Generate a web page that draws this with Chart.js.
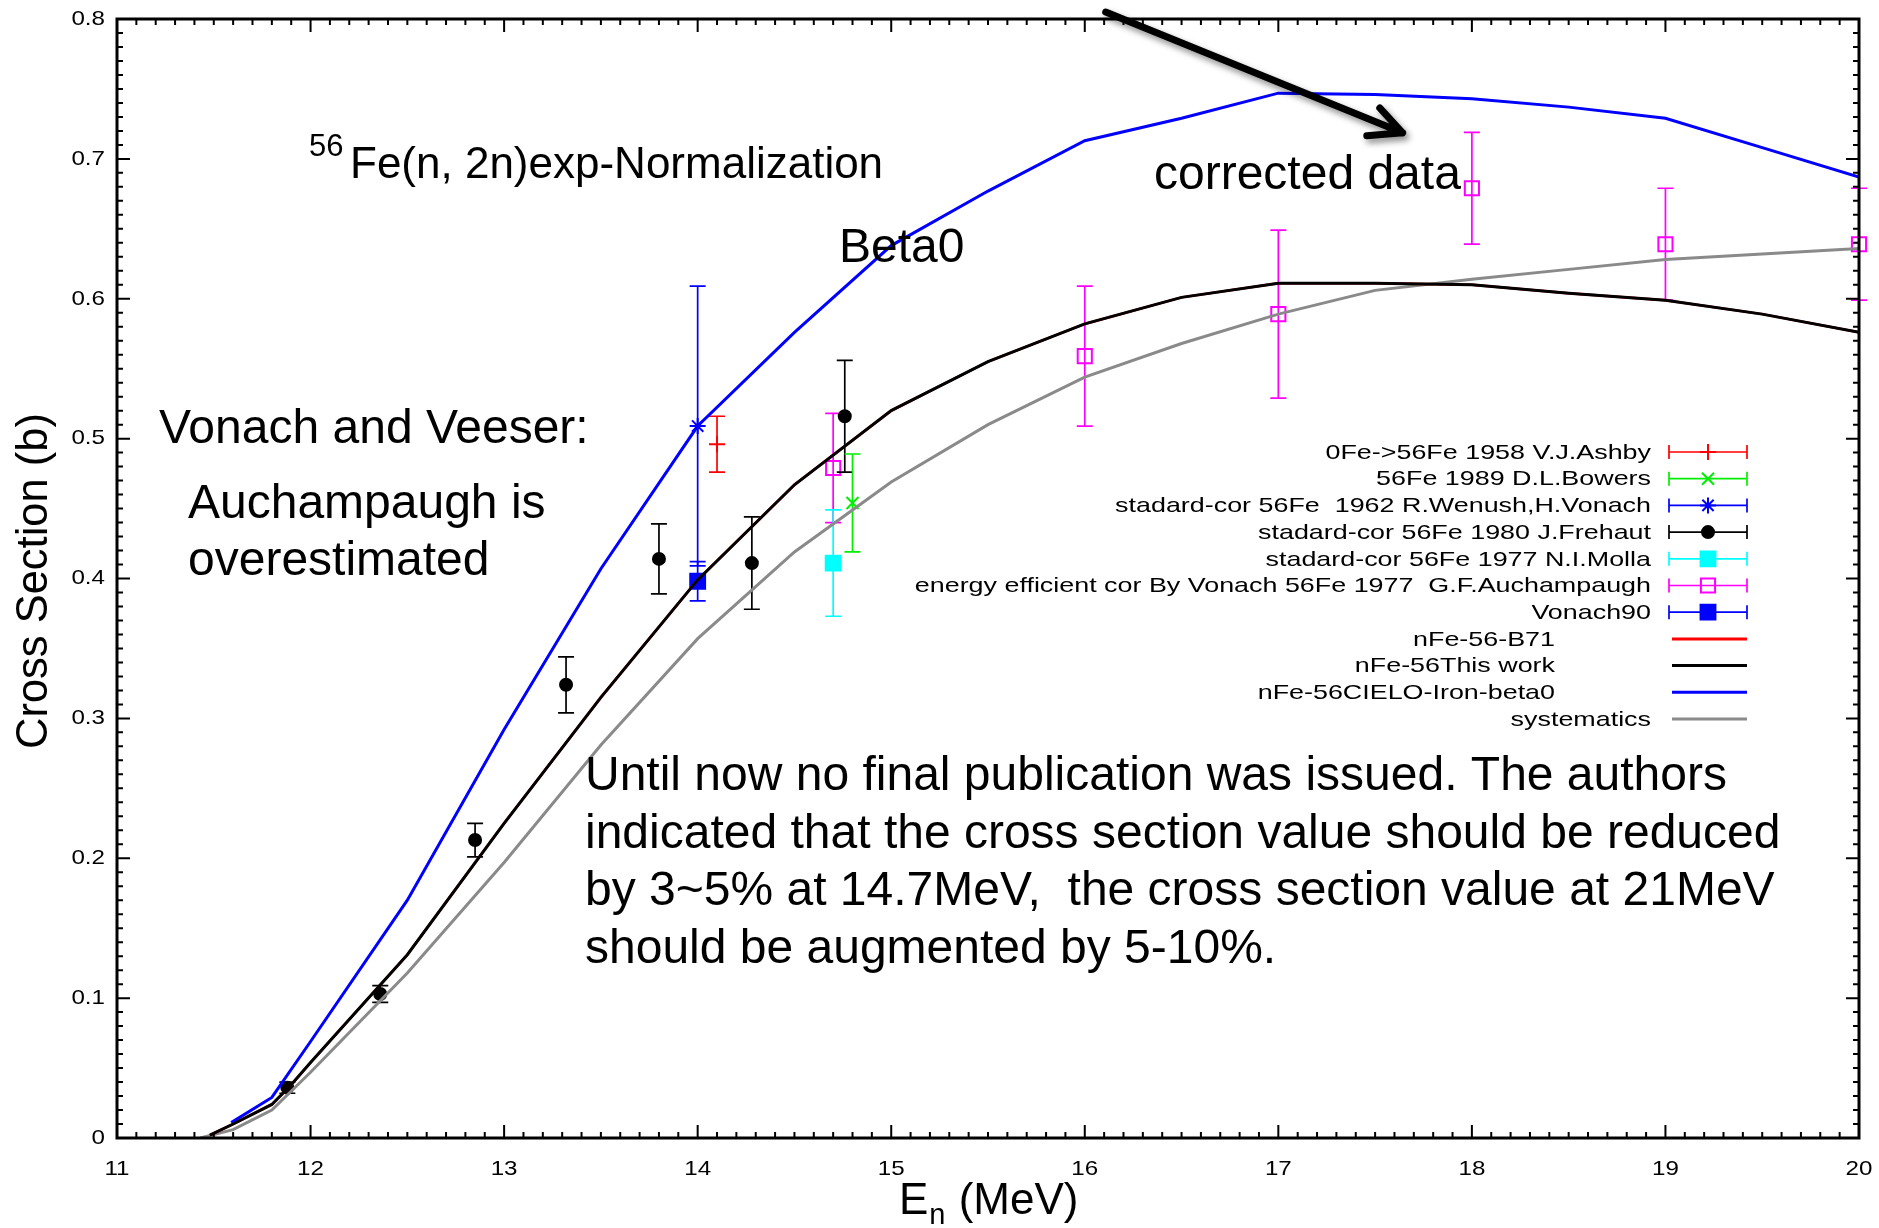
<!DOCTYPE html>
<html>
<head>
<meta charset="utf-8">
<script src="https://cdn.jsdelivr.net/npm/chart.js@4.4.1/dist/chart.umd.min.js"></script>
<style>
  html, body { margin: 0; padding: 0; background: #fff; }
  #wrap { width: 1879px; height: 1228px; }
</style>
</head>
<body>
<div id="wrap"><canvas id="myChart" width="1879" height="1228"></canvas></div>
<script>
'use strict';
/*
 * 56Fe(n,2n) cross section: evaluations vs. experimental data.
 */

// evaluated curves, energy in MeV, cross section in b
var cieloE  = [11.59, 11.8, 12.0, 12.5, 13.0, 13.5, 14.0, 14.5, 15.0, 15.5, 16.0, 16.5, 17.0, 17.5, 18.0, 18.5, 19.0, 19.5, 20.0];
var cieloXS = [0.011, 0.029, 0.069, 0.170, 0.292, 0.407, 0.509, 0.576, 0.638, 0.677, 0.713, 0.729, 0.747, 0.746, 0.743, 0.737, 0.729, 0.708, 0.687];

var thisWorkE  = [11.48, 11.6, 11.8, 11.9, 12.0, 12.5, 13.0, 13.5, 14.0, 14.5, 15.0, 15.5, 16.0, 16.5, 17.0, 17.5, 18.0, 18.5, 19.0, 19.5, 20.0];
var thisWorkXS = [0.002, 0.010, 0.024, 0.038, 0.054, 0.131, 0.225, 0.315, 0.399, 0.467, 0.520, 0.555, 0.582, 0.601, 0.611, 0.611, 0.610, 0.604, 0.599, 0.589, 0.576];

// B71 lies right under "this work"
var b71E  = [11.48, 11.6, 11.8, 11.9, 12.0, 12.5, 13.0, 13.5, 14.0, 14.5, 15.0, 15.5, 16.0, 16.5, 17.0, 17.5, 18.0, 18.5, 19.0, 19.5, 20.0];
var b71XS = [0.002, 0.010, 0.024, 0.038, 0.054, 0.131, 0.225, 0.315, 0.399, 0.467, 0.520, 0.555, 0.582, 0.601, 0.611, 0.611, 0.610, 0.604, 0.599, 0.589, 0.576];

var sysE  = [11.43, 11.6, 11.8, 12.0, 12.5, 13.0, 13.5, 14.0, 14.5, 15.0, 15.5, 16.0, 16.5, 17.0, 17.5, 18.0, 18.5, 19.0, 19.5, 20.0];
var sysXS = [0.000, 0.006, 0.020, 0.047, 0.118, 0.197, 0.281, 0.357, 0.419, 0.469, 0.510, 0.544, 0.568, 0.589, 0.606, 0.614, 0.621, 0.628, 0.632, 0.636];

// experimental points: energy, cross section, +/- error
var ashbyE = [14.1],  ashbyXS = [0.496],  ashbyErr = [0.020];
var bowersE = [14.8], bowersXS = [0.454], bowersErr = [0.035];
var wenuschE = [14.0], wenuschXS = [0.509], wenuschErr = [0.100];
var frehautE   = [11.88, 12.36, 12.85, 13.32, 13.80, 14.28, 14.76];
var frehautXS  = [0.036, 0.103, 0.213, 0.324, 0.414, 0.411, 0.516];
var frehautErr = [0.004, 0.006, 0.012, 0.020, 0.025, 0.033, 0.040];
var mollaE = [14.7], mollaXS = [0.411], mollaErr = [0.038];
var auchE   = [14.7, 16.0, 17.0, 18.0, 19.0, 20.0];
var auchXS  = [0.479, 0.559, 0.589, 0.679, 0.639, 0.639];
var auchErr = [0.039, 0.050, 0.060, 0.040, 0.040, 0.040];
var vonach90E = [14.0], vonach90XS = [0.398], vonach90Err = [0.014];

var xTickValues = [11, 12, 13, 14, 15, 16, 17, 18, 19, 20];
var xTickLabels = ['11', '12', '13', '14', '15', '16', '17', '18', '19', '20'];
var yTickValues = [0, 0.1, 0.2, 0.3, 0.4, 0.5, 0.6, 0.7, 0.8];
var yTickLabels = ['0', '0.1', '0.2', '0.3', '0.4', '0.5', '0.6', '0.7', '0.8'];

// arrow pointing to the corrected data, in axis units
var arrowFrom = {x: 16.108, y: 0.805};
var arrowTip  = {x: 17.642, y: 0.7186};
var arrowWingA = {x: 17.524, y: 0.7364};
var arrowWingB = {x: 17.457, y: 0.7166};

var FONT = '"Liberation Sans", Arial, Helvetica, sans-serif';

var toXY = function (xs, ys) {
  return xs.map(function (x, i) { return {x: x, y: ys[i]}; });
};

var pointSet = function (label, color, style, radius, xs, ys, errs, fill) {
  return {
    label: label,
    data: toXY(xs, ys),
    errors: errs,
    showLine: false,
    pointStyle: style,
    pointRadius: radius,
    pointBorderWidth: 2,
    borderColor: color,
    pointBorderColor: color,
    pointBackgroundColor: fill === undefined ? color : fill,
    clip: false,
    order: 10
  };
};

var curveSet = function (label, color, xs, ys, width) {
  return {
    label: label,
    data: toXY(xs, ys),
    showLine: true,
    borderColor: color,
    borderWidth: width,
    pointRadius: 0,
    tension: 0,
    order: 1
  };
};

var datasets = [
  pointSet('0Fe->56Fe 1958 V.J.Ashby', '#ff0000', 'cross', 8, ashbyE, ashbyXS, ashbyErr),
  pointSet('56Fe 1989 D.L.Bowers', '#00ee00', 'crossRot', 8.5, bowersE, bowersXS, bowersErr),
  pointSet('stadard-cor 56Fe  1962 R.Wenush,H.Vonach', '#0000ff', 'star', 8, wenuschE, wenuschXS, wenuschErr),
  pointSet('stadard-cor 56Fe 1980 J.Frehaut', '#000000', 'circle', 6, frehautE, frehautXS, frehautErr),
  pointSet('stadard-cor 56Fe 1977 N.I.Molla', '#00ffff', 'rect', 10.5, mollaE, mollaXS, mollaErr),
  pointSet('energy efficient cor By Vonach 56Fe 1977  G.F.Auchampaugh', '#ff00ff', 'rect', 10, auchE, auchXS, auchErr, 'rgba(0,0,0,0)'),
  pointSet('Vonach90', '#0000ff', 'rect', 10.5, vonach90E, vonach90XS, vonach90Err),
  curveSet('nFe-56-B71', '#ff0000', b71E, b71XS, 2.5),
  curveSet('nFe-56This work', '#000000', thisWorkE, thisWorkXS, 3),
  curveSet('nFe-56CIELO-Iron-beta0', '#0000ff', cieloE, cieloXS, 3),
  curveSet('systematics', '#8a8a8a', sysE, sysXS, 3)
];
// gnuplot leaves the curve keys a bit to the left
datasets[7].keyShift = 96;
datasets[8].keyShift = 96;
datasets[9].keyShift = 96;
datasets[8].order = 0;

// text drawn by gnuplot is a little wider than normal
var stretchText = function (ctx, txt, x, y, sx) {
  ctx.save();
  ctx.translate(x, y);
  ctx.scale(sx, 1);
  ctx.fillText(txt, 0, 0);
  ctx.restore();
};

var errorBars = {
  id: 'errorBars',
  beforeDatasetDraw: function (chart, args) {
    var ds = chart.data.datasets[args.index];
    if (!ds.errors) return;
    var ctx = chart.ctx, ys = chart.scales.y;
    ctx.save();
    ctx.strokeStyle = ds.borderColor;
    ctx.lineWidth = 1.7;
    args.meta.data.forEach(function (pt, i) {
      var v = ds.data[i].y, e = ds.errors[i];
      var top = ys.getPixelForValue(v + e), bot = ys.getPixelForValue(v - e);
      ctx.beginPath();
      ctx.moveTo(pt.x, top); ctx.lineTo(pt.x, bot);
      ctx.moveTo(pt.x - 8, top); ctx.lineTo(pt.x + 8, top);
      ctx.moveTo(pt.x - 8, bot); ctx.lineTo(pt.x + 8, bot);
      ctx.stroke();
    });
    ctx.restore();
  }
};

var frame = {
  id: 'frame',
  afterDatasetsDraw: function (chart) {
    var ctx = chart.ctx, a = chart.chartArea;
    var xs = chart.scales.x, ys = chart.scales.y;
    ctx.save();
    ctx.strokeStyle = '#000';
    ctx.lineWidth = 2;
    ctx.beginPath();
    // minor + major ticks, inward on all four sides
    for (var k = 0; k <= 90; k++) {
      var px = xs.getPixelForValue(11 + k / 10);
      var len = (k % 10 === 0) ? 13 : 6;
      ctx.moveTo(px, a.bottom); ctx.lineTo(px, a.bottom - len);
      ctx.moveTo(px, a.top); ctx.lineTo(px, a.top + len);
    }
    for (var j = 0; j <= 80; j++) {
      var py = ys.getPixelForValue(j / 100);
      var ln = (j % 10 === 0) ? 13 : 6;
      ctx.moveTo(a.left, py); ctx.lineTo(a.left + ln, py);
      ctx.moveTo(a.right, py); ctx.lineTo(a.right - ln, py);
    }
    ctx.stroke();
    ctx.lineWidth = 3;
    ctx.strokeRect(a.left, a.top, a.right - a.left, a.bottom - a.top);

    // tick labels
    ctx.fillStyle = '#000';
    ctx.font = '21px ' + FONT;
    ctx.textAlign = 'right';
    ctx.textBaseline = 'middle';
    yTickValues.forEach(function (v, i) {
      stretchText(ctx, yTickLabels[i], a.left - 12, ys.getPixelForValue(v), 1.15);
    });
    ctx.textAlign = 'center';
    ctx.textBaseline = 'alphabetic';
    xTickValues.forEach(function (v, i) {
      stretchText(ctx, xTickLabels[i], xs.getPixelForValue(v), a.bottom + 37, 1.15);
    });
    ctx.restore();
  }
};

var keyBox = {
  id: 'keyBox',
  afterDraw: function (chart) {
    var ctx = chart.ctx;
    var textRight = 1651, lineL = 1669, lineR = 1747, top = 452, step = 26.7;
    ctx.save();
    ctx.font = '21px ' + FONT;
    ctx.textAlign = 'right';
    ctx.textBaseline = 'middle';
    chart.data.datasets.forEach(function (ds, i) {
      var y = top + i * step;
      ctx.fillStyle = '#000';
      stretchText(ctx, ds.label, textRight - (ds.keyShift || 0), y + 1, 1.28);
      ctx.strokeStyle = ds.borderColor;
      if (ds.showLine) {
        ctx.lineWidth = 3;
        ctx.beginPath();
        ctx.moveTo(lineL + 3, y); ctx.lineTo(lineR, y);
        ctx.stroke();
        return;
      }
      ctx.lineWidth = 1.7;
      ctx.beginPath();
      ctx.moveTo(lineL, y); ctx.lineTo(lineR, y);
      ctx.moveTo(lineL, y - 7); ctx.lineTo(lineL, y + 7);
      ctx.moveTo(lineR, y - 7); ctx.lineTo(lineR, y + 7);
      ctx.stroke();
      ctx.fillStyle = ds.pointBackgroundColor;
      ctx.lineWidth = ds.pointBorderWidth;
      Chart.helpers.drawPoint(ctx, {
        pointStyle: ds.pointStyle, radius: ds.pointRadius, rotation: 0, borderWidth: 2
      }, (lineL + lineR) / 2, y);
    });
    ctx.restore();
  }
};

var notes = {
  id: 'notes',
  afterDraw: function (chart) {
    var ctx = chart.ctx, xs = chart.scales.x, ys = chart.scales.y;
    ctx.save();
    ctx.fillStyle = '#000';
    ctx.textAlign = 'left';
    ctx.textBaseline = 'alphabetic';

    ctx.font = '31px ' + FONT;
    ctx.fillText('56', 309, 156);
    ctx.font = '44px ' + FONT;
    ctx.fillText('Fe(n, 2n)exp-Normalization', 350, 178);

    ctx.font = '48px ' + FONT;
    ctx.fillText('Beta0', 839, 262);
    ctx.fillText('corrected data', 1154, 189);
    ctx.fillText('Vonach and Veeser:', 159, 443);
    ctx.fillText('Auchampaugh is', 188, 518);
    ctx.fillText('overestimated', 188, 575);

    var para = [
      'Until now no final publication was issued. The authors',
      'indicated that the cross section value should be reduced',
      'by 3~5% at 14.7MeV,  the cross section value at 21MeV',
      'should be augmented by 5-10%.'
    ];
    para.forEach(function (line, i) {
      ctx.fillText(line, 585, 790 + i * 57.5);
    });

    // axis titles
    ctx.font = '43.5px ' + FONT;
    ctx.save();
    ctx.translate(47, 581);
    ctx.rotate(-Math.PI / 2);
    ctx.textAlign = 'center';
    ctx.fillText('Cross Section (b)', 0, 0);
    ctx.restore();

    ctx.font = '44px ' + FONT;
    ctx.fillText('E', 899, 1214);
    var ew = ctx.measureText('E').width;
    ctx.font = '29px ' + FONT;
    ctx.fillText('n', 899 + ew + 1, 1224);
    var nw = ctx.measureText('n').width;
    ctx.font = '44px ' + FONT;
    ctx.fillText(' (MeV)', 899 + ew + nw + 2, 1214);

    // arrow with a soft shadow
    var p0x = xs.getPixelForValue(arrowFrom.x), p0y = ys.getPixelForValue(arrowFrom.y);
    var tx = xs.getPixelForValue(arrowTip.x), ty = ys.getPixelForValue(arrowTip.y);
    ctx.shadowColor = 'rgba(0,0,0,0.45)';
    ctx.shadowBlur = 6;
    ctx.shadowOffsetX = 3;
    ctx.shadowOffsetY = 4;
    ctx.strokeStyle = '#000';
    ctx.lineWidth = 7;
    ctx.lineCap = 'round';
    ctx.lineJoin = 'round';
    ctx.beginPath();
    ctx.moveTo(p0x, p0y);
    ctx.lineTo(tx, ty);
    ctx.moveTo(xs.getPixelForValue(arrowWingA.x), ys.getPixelForValue(arrowWingA.y));
    ctx.lineTo(tx, ty);
    ctx.lineTo(xs.getPixelForValue(arrowWingB.x), ys.getPixelForValue(arrowWingB.y));
    ctx.stroke();
    ctx.restore();
  }
};

var ctx = document.getElementById('myChart').getContext('2d');
var myChart = new Chart(ctx, {
  type: 'scatter',
  data: { datasets: datasets },
  options: {
    responsive: false,
    animation: false,
    devicePixelRatio: 1,
    layout: { padding: { left: 117, right: 20, top: 19, bottom: 90 } },
    plugins: { legend: { display: false }, tooltip: { enabled: false } },
    scales: {
      x: { type: 'linear', min: 11, max: 20, display: false },
      y: { type: 'linear', min: 0, max: 0.8, display: false }
    }
  },
  plugins: [errorBars, frame, keyBox, notes]
});
</script>
</body>
</html>
